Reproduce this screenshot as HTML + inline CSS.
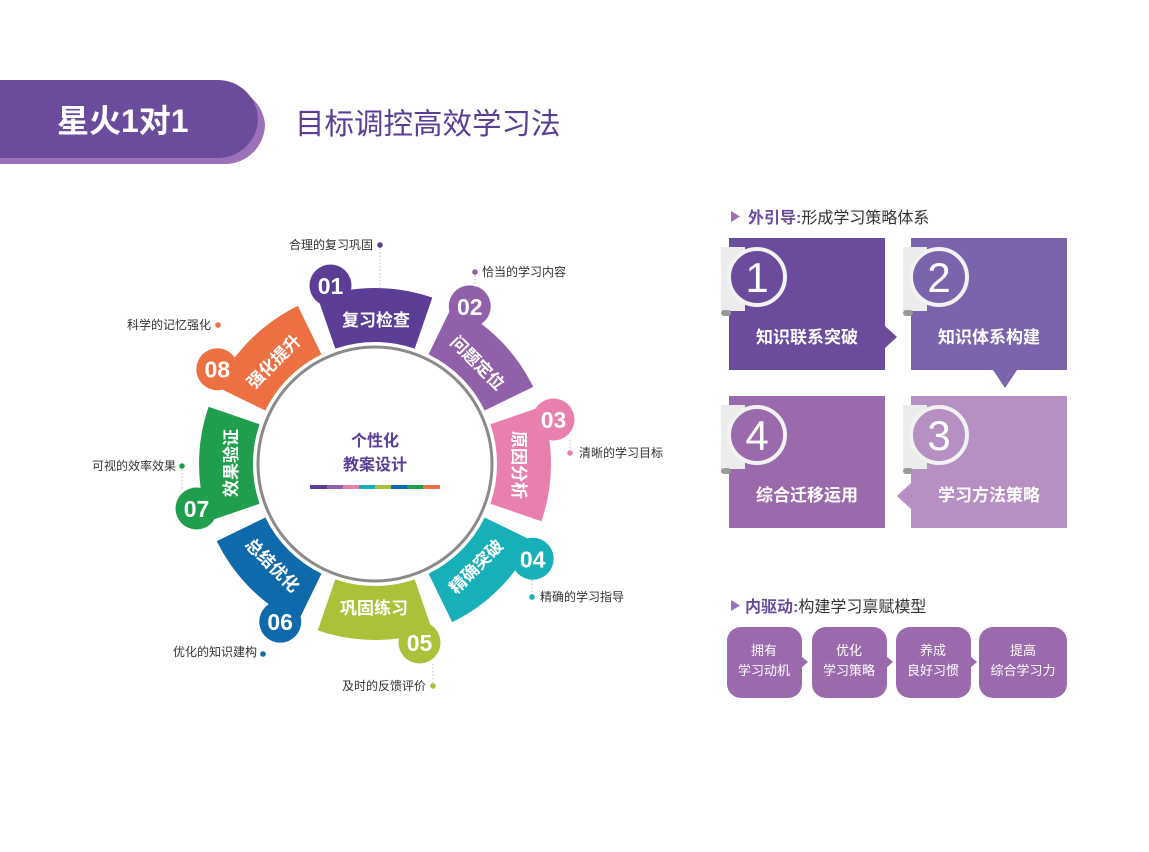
<!DOCTYPE html>
<html><head><meta charset="utf-8"><style>
html,body{margin:0;padding:0;background:#fff;}
body{width:1149px;height:847px;overflow:hidden;font-family:"Liberation Sans","Noto Sans CJK SC",sans-serif;}
</style></head><body>
<svg width="1149" height="847" viewBox="0 0 1149 847" xmlns="http://www.w3.org/2000/svg" font-family="Liberation Sans, Noto Sans CJK SC, sans-serif">
<!-- header -->
<path d="M0,88 H225 A40,40 0 0 1 265,124 A40,40 0 0 1 225,164 H0 Z" fill="#9b72b8"/>
<path d="M0,80 H218 A40,40 0 0 1 258,120 A40,40 0 0 1 218,158 H0 Z" fill="#6a4b9c"/>
<text x="57" y="132" font-size="32" font-weight="bold" fill="#fff">星火1对1</text>
<text x="295" y="134" font-size="29.5" fill="#5b3d96">目标调控高效学习法</text>

<!-- wheel -->
<circle cx="375" cy="464" r="117" fill="none" stroke="#8a8a8a" stroke-width="3"/>
<g font-size="17" font-weight="bold" fill="#fff" text-anchor="middle">
<g transform="rotate(0 375 464)" fill="#5b3d96"><path d="M317.7,297.6 A176,176 0 0 1 432.3,297.6 L414.7,348.6 A122,122 0 0 0 335.3,348.6 Z"/><circle cx="330.5" cy="285.5" r="21"/><text x="376" y="326" fill="#fff">复习检查</text></g>
<g transform="rotate(45 375 464)" fill="#9060a8"><path d="M317.7,297.6 A176,176 0 0 1 432.3,297.6 L414.7,348.6 A122,122 0 0 0 335.3,348.6 Z"/><circle cx="330.5" cy="285.5" r="21"/><text x="376" y="326" fill="#fff">问题定位</text></g>
<g transform="rotate(90 375 464)" fill="#e97fae"><path d="M317.7,297.6 A176,176 0 0 1 432.3,297.6 L414.7,348.6 A122,122 0 0 0 335.3,348.6 Z"/><circle cx="330.5" cy="285.5" r="21"/><text x="376" y="326" fill="#fff">原因分析</text></g>
<g transform="rotate(135 375 464)" fill="#18b0b8"><path d="M317.7,297.6 A176,176 0 0 1 432.3,297.6 L414.7,348.6 A122,122 0 0 0 335.3,348.6 Z"/><circle cx="330.5" cy="285.5" r="21"/><text x="376" y="326" fill="#fff" transform="rotate(180 376 320)">精确突破</text></g>
<g transform="rotate(180 375 464)" fill="#a9c23a"><path d="M317.7,297.6 A176,176 0 0 1 432.3,297.6 L414.7,348.6 A122,122 0 0 0 335.3,348.6 Z"/><circle cx="330.5" cy="285.5" r="21"/><text x="376" y="326" fill="#fff" transform="rotate(180 376 320)">巩固练习</text></g>
<g transform="rotate(225 375 464)" fill="#0e6aaa"><path d="M317.7,297.6 A176,176 0 0 1 432.3,297.6 L414.7,348.6 A122,122 0 0 0 335.3,348.6 Z"/><circle cx="330.5" cy="285.5" r="21"/><text x="376" y="326" fill="#fff" transform="rotate(180 376 320)">总结优化</text></g>
<g transform="rotate(270 375 464)" fill="#1f9f4e"><path d="M317.7,297.6 A176,176 0 0 1 432.3,297.6 L414.7,348.6 A122,122 0 0 0 335.3,348.6 Z"/><circle cx="330.5" cy="285.5" r="21"/><text x="376" y="326" fill="#fff">效果验证</text></g>
<g transform="rotate(315 375 464)" fill="#ec7042"><path d="M317.7,297.6 A176,176 0 0 1 432.3,297.6 L414.7,348.6 A122,122 0 0 0 335.3,348.6 Z"/><circle cx="330.5" cy="285.5" r="21"/><text x="376" y="326" fill="#fff">强化提升</text></g>
</g>
<g font-size="23" font-weight="bold" fill="#fff" text-anchor="middle">
<text x="330.5" y="294">01</text><text x="469.8" y="314.8">02</text><text x="553.5" y="428">03</text><text x="532.7" y="567.3">04</text>
<text x="419.5" y="651">05</text><text x="280.2" y="630.2">06</text><text x="196.5" y="517">07</text><text x="217.3" y="377.7">08</text>
</g>
<!-- center -->
<text x="375" y="446" font-size="16" font-weight="bold" fill="#5b3d96" text-anchor="middle">个性化</text>
<text x="375" y="470" font-size="16" font-weight="bold" fill="#5b3d96" text-anchor="middle">教案设计</text>
<g>
<rect x="310" y="485" width="17" height="4" fill="#5b3d96"/><rect x="327" y="485" width="16" height="4" fill="#9060a8"/><rect x="343" y="485" width="16" height="4" fill="#e97fae"/><rect x="359" y="485" width="16" height="4" fill="#18b0b8"/><rect x="375" y="485" width="16" height="4" fill="#a9c23a"/><rect x="391" y="485" width="16" height="4" fill="#0e6aaa"/><rect x="407" y="485" width="16" height="4" fill="#1f9f4e"/><rect x="423" y="485" width="17" height="4" fill="#ec7042"/>
</g>
<!-- outer labels -->
<g font-size="12" fill="#333" stroke-dasharray="1.5,2">
<line x1="380" y1="245" x2="380" y2="290" stroke="#bbb"/><circle cx="380" cy="245" r="2.8" fill="#5b3d96" stroke="none"/><text x="373" y="249" text-anchor="end" stroke="none">合理的复习巩固</text>
<line x1="475" y1="272" x2="475" y2="288" stroke="#bbb"/><circle cx="475" cy="272" r="2.8" fill="#9060a8" stroke="none"/><text x="482" y="276" stroke="none">恰当的学习内容</text>
<line x1="570" y1="440" x2="570" y2="453" stroke="#bbb"/><circle cx="570" cy="453" r="2.8" fill="#e97fae" stroke="none"/><text x="579" y="457" stroke="none">清晰的学习目标</text>
<line x1="532" y1="580" x2="532" y2="597" stroke="#bbb"/><circle cx="532" cy="597" r="2.8" fill="#18b0b8" stroke="none"/><text x="540" y="601" stroke="none">精确的学习指导</text>
<line x1="433" y1="664" x2="433" y2="686" stroke="#bbb"/><circle cx="433" cy="686" r="2.8" fill="#a9c23a" stroke="none"/><text x="426" y="690" text-anchor="end" stroke="none">及时的反馈评价</text>
<circle cx="263" cy="654" r="2.8" fill="#0e6aaa" stroke="none"/><text x="257" y="656" text-anchor="end" stroke="none">优化的知识建构</text>
<line x1="182" y1="466" x2="182" y2="490" stroke="#bbb"/><circle cx="182" cy="466" r="2.8" fill="#1f9f4e" stroke="none"/><text x="176" y="470" text-anchor="end" stroke="none">可视的效率效果</text>
<circle cx="218" cy="325" r="2.8" fill="#ec7042" stroke="none"/><text x="211" y="329" text-anchor="end" stroke="none">科学的记忆强化</text>
</g>

<!-- right top -->
<path d="M731,211 L740,216.5 L731,222 Z" fill="#9b72b8"/>
<text x="748" y="223" font-size="16" fill="#333"><tspan font-weight="bold" fill="#6a4b9c">外引导:</tspan>形成学习策略体系</text>
<rect x="729" y="238" width="156" height="132" fill="#6a4b9c"/>
<path d="M885,326 L897,337 L885,348 Z" fill="#6a4b9c"/>
<rect x="911" y="238" width="156" height="132" fill="#7b64ac"/>
<path d="M993,370 L1017,370 L1005,388 Z" fill="#7b64ac"/>
<rect x="911" y="396" width="156" height="132" fill="#b68fc3"/>
<path d="M911,483 L897,496 L911,509 Z" fill="#b68fc3"/>
<rect x="729" y="396" width="156" height="132" fill="#9b6aad"/>
<g>
<rect x="721" y="247" width="24" height="64" fill="#ececec"/><rect x="721" y="310" width="10" height="6" rx="3" fill="#999"/>
<circle cx="757" cy="277" r="28" fill="#6a4b9c" stroke="#f2f2f2" stroke-width="4"/>
<rect x="903" y="247" width="24" height="64" fill="#ececec"/><rect x="903" y="310" width="10" height="6" rx="3" fill="#999"/>
<circle cx="939" cy="277" r="28" fill="#7b64ac" stroke="#f2f2f2" stroke-width="4"/>
<rect x="903" y="405" width="24" height="64" fill="#ececec"/><rect x="903" y="468" width="10" height="6" rx="3" fill="#999"/>
<circle cx="939" cy="435" r="28" fill="#b68fc3" stroke="#f2f2f2" stroke-width="4"/>
<rect x="721" y="405" width="24" height="64" fill="#ececec"/><rect x="721" y="468" width="10" height="6" rx="3" fill="#999"/>
<circle cx="757" cy="435" r="28" fill="#9b6aad" stroke="#f2f2f2" stroke-width="4"/>
</g>
<g font-size="42" fill="#fff" text-anchor="middle">
<text x="757" y="292">1</text><text x="939" y="292">2</text><text x="939" y="450">3</text><text x="757" y="450">4</text>
</g>
<g font-size="17" font-weight="bold" fill="#fff" text-anchor="middle">
<text x="807" y="343">知识联系突破</text><text x="989" y="343">知识体系构建</text>
<text x="989" y="501">学习方法策略</text><text x="807" y="501">综合迁移运用</text>
</g>

<!-- right bottom -->
<path d="M731,600 L740,605.5 L731,611 Z" fill="#9b72b8"/>
<text x="745" y="612" font-size="16" fill="#333"><tspan font-weight="bold" fill="#6a4b9c">内驱动:</tspan>构建学习禀赋模型</text>
<g fill="#9b6aad">
<rect x="727" y="627" width="75" height="71" rx="14"/><path d="M801,656 L808,662 L801,668 Z"/>
<rect x="812" y="627" width="75" height="71" rx="14"/><path d="M886,656 L893,662 L886,668 Z"/>
<rect x="896" y="627" width="75" height="71" rx="14"/><path d="M970,656 L977,662 L970,668 Z"/>
<rect x="979" y="627" width="88" height="71" rx="14"/>
</g>
<g font-size="13" fill="#fff" text-anchor="middle">
<text x="764" y="655">拥有</text><text x="764" y="675">学习动机</text>
<text x="849" y="655">优化</text><text x="849" y="675">学习策略</text>
<text x="933" y="655">养成</text><text x="933" y="675">良好习惯</text>
<text x="1023" y="655">提高</text><text x="1023" y="675">综合学习力</text>
</g>
</svg>
</body></html>
